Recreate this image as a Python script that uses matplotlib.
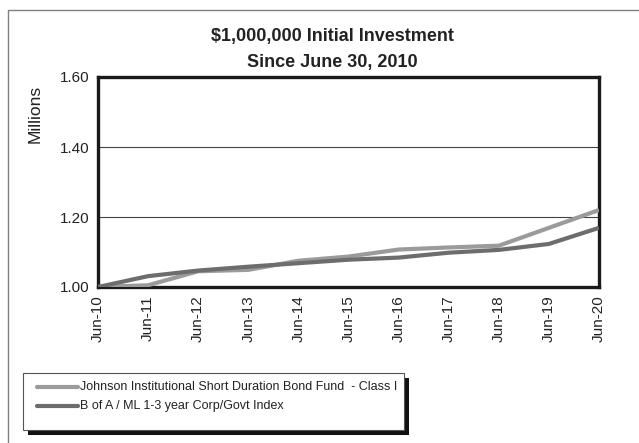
import matplotlib.pyplot as plt
from matplotlib.patches import Rectangle
from matplotlib.lines import Line2D
import numpy as np

plt.rcParams['font.family'] = ['Liberation Sans Narrow', 'Liberation Sans', 'DejaVu Sans']

# growth of $1,000,000, in millions, at each June 30
dates = ['Jun-10', 'Jun-11', 'Jun-12', 'Jun-13', 'Jun-14', 'Jun-15',
         'Jun-16', 'Jun-17', 'Jun-18', 'Jun-19', 'Jun-20']
fund = [1.000, 1.005, 1.045, 1.049, 1.075, 1.087, 1.107, 1.113, 1.118, 1.169, 1.220]
index = [1.000, 1.031, 1.047, 1.058, 1.068, 1.078, 1.084, 1.098, 1.106, 1.123, 1.169]
labels = ['Johnson Institutional Short Duration Bond Fund  - Class I',
          'B of A / ML 1-3 year Corp/Govt Index']
colors = ['#9b9b9b', '#6d6d6d']
yticks = [1.00, 1.20, 1.40, 1.60]

W, H = 639, 443
fig = plt.figure(figsize=(W / 100, H / 100), dpi=100)
ax = fig.add_axes([98 / W, 1 - 287 / H, (599 - 98) / W, (287 - 77) / H])

x = np.arange(len(dates))
ax.plot(x, fund, color=colors[0], lw=3.0, solid_capstyle='butt', zorder=3)
ax.plot(x, index, color=colors[1], lw=3.0, solid_capstyle='butt', zorder=4)

ax.set_xlim(0, len(dates) - 1)
ax.set_ylim(1.0, 1.6)
ax.set_yticks(yticks)
ax.set_yticklabels(['%.2f' % v for v in yticks], fontsize=11, color='#222222')
ax.set_xticks(x)
ax.set_xticklabels(dates, rotation=90, fontsize=11, color='#222222')
ax.tick_params(length=0, pad=6)

for yv in yticks[1:-1]:
    ax.axhline(yv, color='#444444', lw=0.8, zorder=1)
for s in ax.spines.values():
    s.set_linewidth(2.4)
    s.set_color('#1a1a1a')

# axis caption sits near the top of the value axis
fig.text(35 / W, 1 - 114 / H, 'Millions', rotation=90, ha='center', va='center',
         fontsize=12.5, color='#222222')

fig.text(332 / W, 1 - 36 / H, '$1,000,000 Initial Investment', ha='center', va='center',
         fontsize=13, fontweight='bold', color='#222222')
fig.text(332 / W, 1 - 63 / H, 'Since June 30, 2010', ha='center', va='center',
         fontsize=13, fontweight='bold', color='#222222')

# outer frame (open at right and bottom)
fig.add_artist(Line2D([8 / W, 8 / W, 1.0], [0.0, 1 - 10 / H, 1 - 10 / H],
                      transform=fig.transFigure, color='#808080', lw=1.0))

# legend box with a dark drop shadow
lx0, ly0, lx1, ly1 = 23, 373, 404, 430
fig.add_artist(Rectangle(((lx0 + 5) / W, 1 - (ly1 + 5) / H), (lx1 - lx0) / W,
                         (ly1 - ly0) / H, transform=fig.transFigure,
                         facecolor='#111111', edgecolor='none'))
fig.add_artist(Rectangle((lx0 / W, 1 - ly1 / H), (lx1 - lx0) / W, (ly1 - ly0) / H,
                         transform=fig.transFigure, facecolor='white',
                         edgecolor='#555555', lw=0.8))
for i, (lab, c) in enumerate(zip(labels, colors)):
    yy = 1 - (387 + i * 19) / H
    fig.add_artist(Line2D([37 / W, 78 / W], [yy, yy], transform=fig.transFigure,
                          color=c, lw=3.0, solid_capstyle='round'))
    fig.text(80 / W, yy, lab, ha='left', va='center', fontsize=9, color='#222222')

fig.savefig('out.png', dpi=100)
